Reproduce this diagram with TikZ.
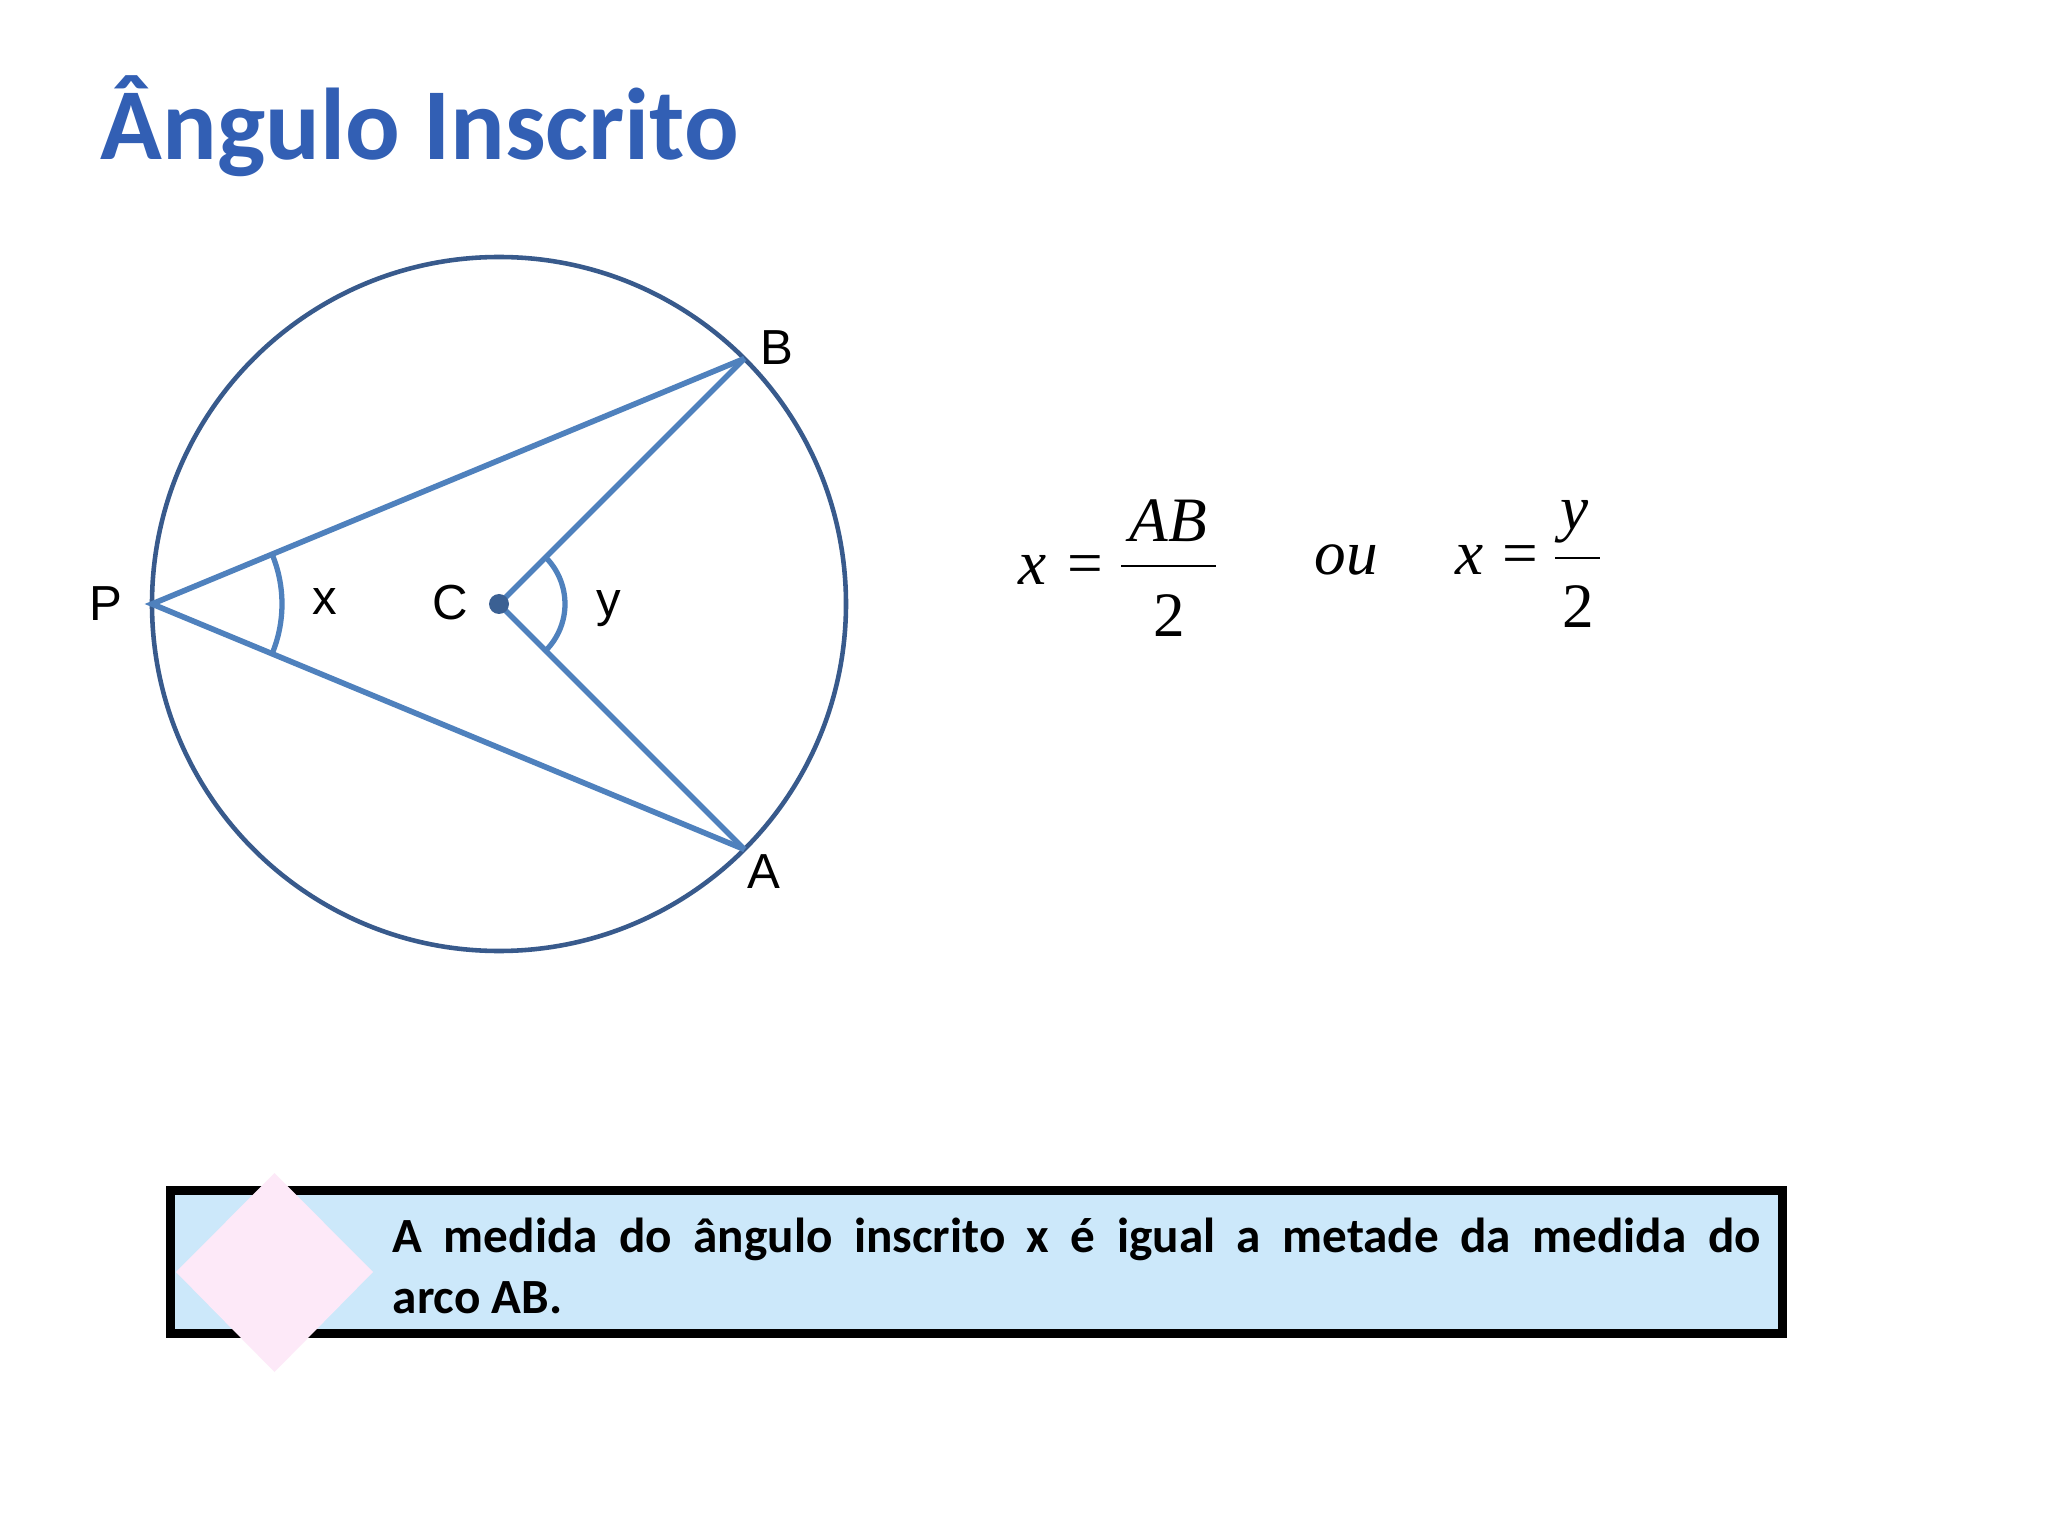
\documentclass[tikz,border=0pt]{standalone}
\usepackage{fontspec}
\setmainfont{Liberation Sans}
\newfontfamily\calibrifont{Carlito}
\newfontfamily\timesfont{Liberation Serif}
\definecolor{chordblue}{RGB}{79,129,189}
\definecolor{circblue}{RGB}{56,90,140}
\definecolor{titleblue}{RGB}{50,95,180}
\definecolor{boxblue}{RGB}{204,232,250}
\definecolor{diamondpink}{RGB}{253,233,248}
\begin{document}
\begin{tikzpicture}[x=1cm, y=-1cm,
    chord/.style={draw=chordblue, line width=1.6pt},
    anglemark/.style={draw=chordblue, line width=1.5pt},
    ptlabel/.style={font=\fontsize{14}{16}\selectfont, inner sep=0pt},
    eqtext/.style={font=\timesfont\fontsize{18}{20}\selectfont\itshape, inner sep=0pt, anchor=base},
    eqsign/.style={font=\timesfont\fontsize{18}{20}\selectfont, inner sep=0pt, anchor=base},
    fracbar/.style={draw=black, line width=0.85pt}]
        \useasboundingbox (0,0) rectangle (20.48,15.36);
        \fill[white] (0,0) rectangle (20.48,15.36);
        % title
        \node[anchor=base west, inner sep=0pt, text=titleblue,
              font=\calibrifont\bfseries\fontsize{29}{33}\selectfont] (title) at (1.00,1.60) {Ângulo Inscrito};
        % circle and points
        \coordinate (O) at (4.99,6.04);
        \coordinate (P) at (1.52,6.04);
        \coordinate (B) at (7.444,3.586);
        \coordinate (A) at (7.444,8.494);
        \coordinate (C) at (4.99,6.04);
        \draw[circblue, line width=1.3pt] (O) circle (3.47);
        \draw[chord] (B) -- (P) -- (A);
        \draw[chord] (B) -- (C) -- (A);
        \draw[anglemark] ([shift={(-22.5:1.30)}]P) arc (-22.5:22.5:1.30);
        \draw[anglemark] ([shift={(-46:0.66)}]C) arc (-46:47:0.66);
        \fill[circblue!85!chordblue] (C) circle (0.1);
        \node[ptlabel] (labP) at (1.06,6.04) {P};
        \node[ptlabel] (labB) at (7.77,3.48) {B};
        \node[ptlabel] (labA) at (7.64,8.72) {A};
        \node[ptlabel] (labC) at (4.50,6.03) {C};
        \node[ptlabel] (labx) at (3.25,6.02) {x};
        \node[ptlabel] (laby) at (6.09,6.09) {y};
        % formulas
        \node[eqtext] (f1x) at (10.33,5.85) {x};
        \node[eqsign] (f1eq) at (10.85,5.85) {=};
        \node[eqtext] (f1num) at (11.68,5.42) {AB};
        \node[eqsign] (f1den) at (11.69,6.37) {2};
        \coordinate (f1l) at (11.21,5.66);
        \coordinate (f1r) at (12.16,5.66);
        \draw[fracbar] (f1l) -- (f1r);
        \node[eqtext] (ou) at (13.46,5.75) {ou};
        \node[eqtext] (f2x) at (14.70,5.75) {x};
        \node[eqsign] (f2eq) at (15.20,5.75) {=};
        \node[eqtext] (f2num) at (15.75,5.30) {y};
        \node[eqsign] (f2den) at (15.78,6.27) {2};
        \coordinate (f2l) at (15.55,5.58);
        \coordinate (f2r) at (16.00,5.58);
        \draw[fracbar] (f2l) -- (f2r);
        % statement box
        \draw[line width=2.55pt, fill=boxblue] (1.705,11.905) rectangle (17.825,13.335);
        \fill[diamondpink] (2.745,11.73) -- (3.73,12.72) -- (2.745,13.72) -- (1.76,12.72) -- cycle;
        \node[anchor=base west, inner sep=0pt, text width=13.68cm, align=justify,
              font=\calibrifont\bfseries\fontsize{14}{17.4}\selectfont] (statement) at (3.92,12.52)
              {A medida do ângulo inscrito x é igual a metade da medida do\linebreak arco AB.};
\end{tikzpicture}
\end{document}
